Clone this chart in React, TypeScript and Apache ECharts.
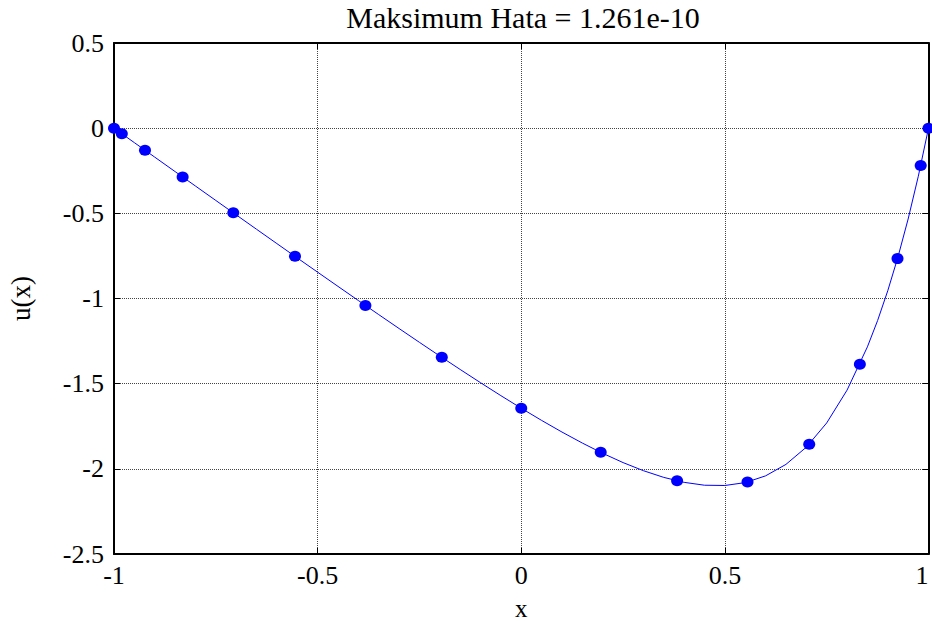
import React, { useEffect, useRef } from "react";
import * as echarts from "echarts";

const titleText = "Maksimum Hata = 1.261e-10";
const xTicks = { min: -1, max: 1, interval: 0.5 };
const yTicks = { min: -2.5, max: 0.5, interval: 0.5 };

// Chebyshev nodes (dots)
const nodeX = [1, 0.98079, 0.92388, 0.83147, 0.70711, 0.55557, 0.38268, 0.19509, 0, -0.19509, -0.38268, -0.55557, -0.70711, -0.83147, -0.92388, -0.98079, -1];
const nodeU = [0, -0.2196, -0.7659, -1.386, -1.8554, -2.0776, -2.0706, -1.9031, -1.6443, -1.3454, -1.0405, -0.7524, -0.497, -0.2863, -0.1294, -0.0327, 0];

// curve
const curveX = [-1, -0.95, -0.9, -0.85, -0.8, -0.75, -0.7, -0.65, -0.6, -0.55, -0.5, -0.45, -0.4, -0.35, -0.3, -0.25, -0.2, -0.15, -0.1, -0.05, 0, 0.05, 0.1, 0.15, 0.2, 0.25, 0.3, 0.35, 0.4, 0.45, 0.5, 0.55, 0.6, 0.65, 0.7, 0.75, 0.8, 0.85, 0.875, 0.9, 0.925, 0.95, 0.975, 1];
const curveU = [0, -0.085, -0.17, -0.2549, -0.3397, -0.4244, -0.509, -0.5935, -0.6777, -0.7618, -0.8455, -0.9289, -1.0119, -1.0944, -1.1763, -1.2574, -1.3376, -1.4166, -1.4943, -1.5703, -1.6443, -1.7157, -1.7841, -1.8487, -1.9088, -1.9633, -2.0109, -2.0503, -2.0794, -2.0962, -2.0978, -2.0808, -2.0412, -1.9739, -1.8729, -1.7306, -1.538, -1.2838, -1.1295, -0.9544, -0.7565, -0.5333, -0.2821, 0];

const FONT = "Liberation Serif";

export default function App() {
  const ref = useRef<HTMLDivElement>(null);
  useEffect(() => {
    if (!ref.current) return;
    document.body.style.margin = "0";
    document.body.style.overflow = "hidden";
    const chart = echarts.init(ref.current, null, { renderer: "svg" });
    const tickCommon = {
      axisTick: { show: true, inside: true, length: 6, lineStyle: { color: "#000", width: 1 } },
      axisLine: { show: true, onZero: false, lineStyle: { color: "#000", width: 2 } },
    };
    chart.setOption({
      animation: false,
      backgroundColor: "#fff",
      title: {
        text: titleText,
        left: 518,
        top: -3,
        textAlign: "center",
        textStyle: { fontFamily: FONT, fontSize: 30, fontWeight: "normal", color: "#000" },
      },
      grid: { left: 114, right: 3.5, top: 43, bottom: 67, show: false, containLabel: false, outerBoundsMode: "none" },
      xAxis: [
        {
          type: "value",
          ...xTicks,
          position: "bottom",
          name: "x",
          nameLocation: "middle",
          nameGap: 46,
          nameTextStyle: { fontFamily: FONT, fontSize: 25, lineHeight: 16, color: "#000" },
          axisLabel: {
            fontFamily: FONT,
            fontSize: 26,
            color: "#000",
            margin: 8,
            alignMaxLabel: "right",
            formatter: (v: number) => String(v),
          },
          splitLine: { show: true, lineStyle: { color: "#444", type: "dotted", width: 1 } },
          ...tickCommon,
        },
        {
          type: "value",
          ...xTicks,
          position: "top",
          axisLabel: { show: false },
          splitLine: { show: false },
          ...tickCommon,
        },
      ],
      yAxis: [
        {
          type: "value",
          ...yTicks,
          position: "left",
          name: "u(x)",
          nameLocation: "middle",
          nameGap: 80,
          nameTextStyle: { fontFamily: FONT, fontSize: 27, color: "#000" },
          axisLabel: { fontFamily: FONT, fontSize: 26, color: "#000", margin: 10, formatter: (v: number) => String(v) },
          splitLine: { show: true, lineStyle: { color: "#444", type: "dotted", width: 1 } },
          ...tickCommon,
        },
        {
          type: "value",
          ...yTicks,
          position: "right",
          axisLabel: { show: false },
          splitLine: { show: false },
          ...tickCommon,
        },
      ],
      series: [
        {
          type: "line",
          xAxisIndex: 0,
          yAxisIndex: 0,
          data: curveX.map((x, i) => [x, curveU[i]]),
          showSymbol: false,
          symbol: "none",
          lineStyle: { color: "#0000ff", width: 1 },
          z: 3,
        },
        {
          type: "scatter",
          xAxisIndex: 0,
          yAxisIndex: 0,
          data: nodeX.map((x, i) => [x, nodeU[i]]),
          symbol: "circle",
          symbolSize: [12, 11],
          itemStyle: { color: "#0000ff", opacity: 1 },
          z: 4,
        },
      ],
    });
    return () => chart.dispose();
  }, []);
  return <div ref={ref} style={{ position: "absolute", left: 0, top: 0, width: 932, height: 621 }} />;
}
